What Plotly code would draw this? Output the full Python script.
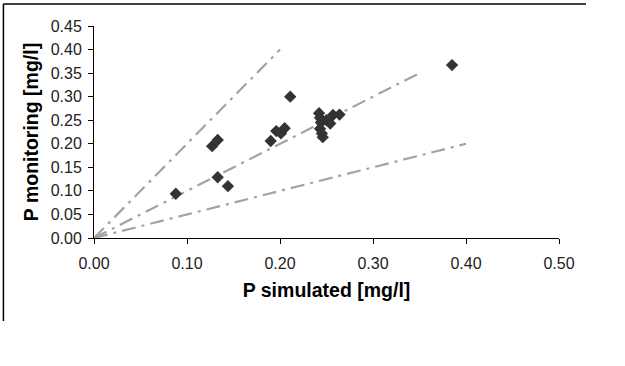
import plotly.graph_objects as go

# Data
p_simulated = [0.088, 0.133, 0.144, 0.127, 0.133, 0.211, 0.190, 0.196, 0.201, 0.205,
               0.242, 0.243, 0.244, 0.243, 0.245, 0.246, 0.250, 0.254, 0.257, 0.264, 0.385]
p_monitoring = [0.094, 0.129, 0.110, 0.195, 0.208, 0.300, 0.206, 0.227, 0.222, 0.233,
                0.265, 0.255, 0.245, 0.232, 0.222, 0.214, 0.250, 0.243, 0.261, 0.262, 0.367]

# Reference ratio lines (y = slope * x), drawn from origin to end x
ratio_slopes = [2.0, 1.0, 0.5]
ratio_end_x = [0.20, 0.35, 0.40]

x_ticks = [0.0, 0.1, 0.2, 0.3, 0.4, 0.5]
y_ticks = [0.0, 0.05, 0.10, 0.15, 0.20, 0.25, 0.30, 0.35, 0.40, 0.45]

fig = go.Figure()

for s, xe in zip(ratio_slopes, ratio_end_x):
    fig.add_trace(go.Scatter(
        x=[0, xe], y=[0, s * xe], mode="lines",
        line=dict(color="#a3a3a3", width=2.2, dash="14px,6px,3px,6px"),
        hoverinfo="skip", showlegend=False))

fig.add_trace(go.Scatter(
    x=p_simulated, y=p_monitoring, mode="markers",
    marker=dict(symbol="diamond", size=9.5, color="#333333", line=dict(width=0)),
    showlegend=False))

font = "Liberation Sans, Arial, sans-serif"
fig.update_layout(
    width=625, height=366,
    margin=dict(l=94, r=66, t=26, b=128),
    paper_bgcolor="white", plot_bgcolor="white",
    font=dict(family=font, color="black"),
    xaxis=dict(range=[0, 0.5], tickvals=x_ticks, tickformat=".2f",
               showgrid=False, zeroline=False, showline=True, linecolor="black", linewidth=1,
               ticks="outside", ticklen=5, tickcolor="black", ticklabelstandoff=6,
               tickfont=dict(size=16, color="#222222"),
               title=dict(text="<b>P simulated [mg/l]</b>", font=dict(size=19.5), standoff=12)),
    yaxis=dict(range=[0, 0.45], tickvals=y_ticks, tickformat=".2f",
               showgrid=False, zeroline=False, showline=True, linecolor="black", linewidth=1,
               ticks="outside", ticklen=5, tickcolor="black", ticklabelstandoff=3,
               tickfont=dict(size=16, color="#222222"),
               title=dict(text="<b>P monitoring [mg/l]</b>", font=dict(size=19.5), standoff=6)),
    shapes=[
        dict(type="line", xref="paper", yref="paper", x0=-0.1948, x1=1.058, y0=1.1038, y1=1.1038,
             line=dict(color="black", width=1.5), layer="above"),
        dict(type="line", xref="paper", yref="paper", x0=-0.1948, x1=-0.1948, y0=1.1038, y1=-0.3915,
             line=dict(color="black", width=1.5), layer="above"),
    ],
)

fig.write_html("out.html", config={"displayModeBar": False},
               post_script="document.body.style.margin='0';")
